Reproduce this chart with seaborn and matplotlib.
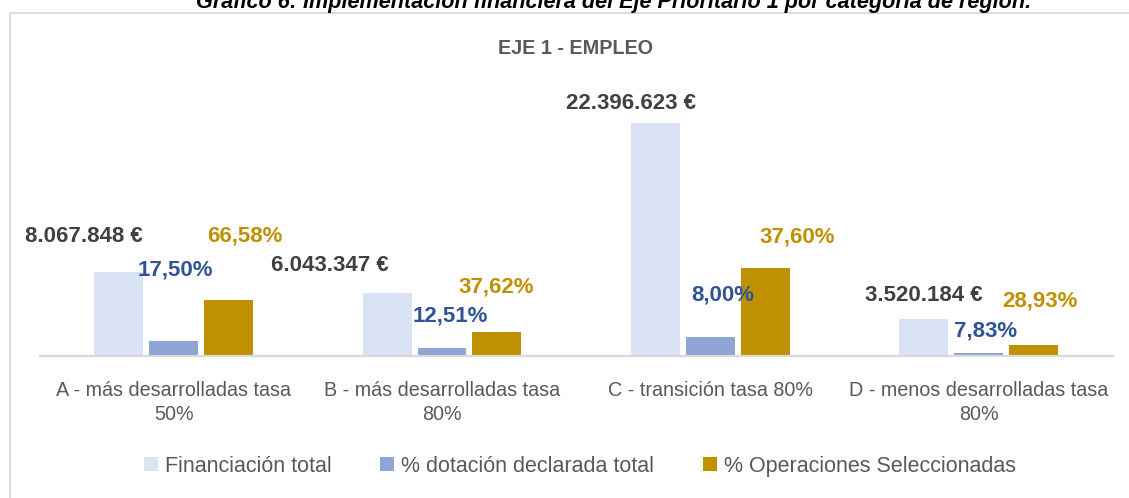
import matplotlib
matplotlib.use("Agg")
import matplotlib.pyplot as plt
from matplotlib.patches import Rectangle, Patch
import seaborn as sns
import pandas as pd

# ---------------- data ----------------
categories = ["A - más desarrolladas tasa\n50%",
              "B - más desarrolladas tasa\n80%",
              "C - transición tasa 80%",
              "D - menos desarrolladas tasa\n80%"]
series = ["Financiación total", "% dotación declarada total", "% Operaciones Seleccionadas"]
financiacion_total = [8067848, 6043347, 22396623, 3520184]
pct_dotacion = [17.50, 12.51, 8.00, 7.83]
pct_operaciones = [66.58, 37.62, 37.60, 28.93]

lbl_fin = ["8.067.848 €", "6.043.347 €", "22.396.623 €", "3.520.184 €"]
lbl_dot = ["17,50%", "12,51%", "8,00%", "7,83%"]
lbl_ope = ["66,58%", "37,62%", "37,60%", "28,93%"]

# bar heights for % series are drawn as the corresponding amount of the total
h_dot = [t * p / 100 for t, p in zip(financiacion_total, pct_dotacion)]
h_ope = [t * p / 100 for t, p in zip(financiacion_total, pct_operaciones)]

rows = []
for i, c in enumerate(categories):
    rows.append((c, series[0], financiacion_total[i]))
    rows.append((c, series[1], h_dot[i]))
    rows.append((c, series[2], h_ope[i]))
df = pd.DataFrame(rows, columns=["cat", "serie", "valor"])

colors = ["#DAE3F3", "#8FA5D4", "#BF9000"]
label_colors = ["#404040", "#2F5597", "#BF9000"]

# label offsets (pixels) relative to bar top-centre: (dx, dy)
offsets = [
    [(-35, 36), (-57, 28), (-24, 20), (0, 24)],
    [(2, 71), (8, 32), (13, 42), (7, 22)],
    [(16, 64), (-1, 45), (32, 31), (7, 44)],
]

# ---------------- figure ----------------
sns.set_theme(style="white")
plt.rcParams["font.family"] = ["Liberation Sans", "DejaVu Sans"]

W, H = 1129, 498
fig = plt.figure(figsize=(W / 100, H / 100), dpi=100)
ax = fig.add_axes([39.6 / W, (H - 356) / H, 1073 / W, 260 / H])

sns.barplot(data=df, x="cat", y="valor", hue="serie", hue_order=series,
            order=categories, palette=colors, width=0.614, gap=0.11,
            saturation=1, edgecolor="none", linewidth=0, ax=ax, legend=False)

ax.set_xlim(-0.5, 3.5)
ax.set_ylim(0, 25e6)
ax.set_xlabel("")
ax.set_ylabel("")
ax.set_yticks([])
for s in ["top", "right", "left"]:
    ax.spines[s].set_visible(False)
ax.spines["bottom"].set_color("#D9D9D9")
ax.spines["bottom"].set_linewidth(1.6)
ax.tick_params(axis="x", length=0, pad=18, labelsize=14.2, labelcolor="#595959")
for t in ax.get_xticklabels():
    t.set_linespacing(1.3)

all_labels = [lbl_fin, lbl_dot, lbl_ope]
for si, cont in enumerate(ax.containers):
    for ci, bar in enumerate(cont.patches):
        xc = bar.get_x() + bar.get_width() / 2
        yt = bar.get_height()
        dx, dy = offsets[si][ci]
        ax.annotate(all_labels[si][ci], xy=(xc, yt), xytext=(dx, dy),
                    textcoords="offset pixels", ha="center", va="center",
                    fontsize=16, fontweight="bold", color=label_colors[si],
                    annotation_clip=False)

# chart border
fig.patches.append(Rectangle((10 / W, -0.05), 1.2, 1 - 13 / H + 0.05,
                             transform=fig.transFigure, fill=False,
                             edgecolor="#D9D9D9", linewidth=1.3))

# titles
fig.text(614 / W, 1 - 8 / H,
         "Gráfico 6: Implementación financiera del Eje Prioritario 1 por categoría de región.",
         ha="center", va="baseline", fontsize=15.6, fontweight="bold",
         fontstyle="italic", color="#000000")
fig.text(575 / W, 1 - 49 / H, "EJE 1 - EMPLEO", ha="center", va="center",
         fontsize=14.2, fontweight="bold", color="#595959")

# legend
handles = [Patch(facecolor=c, edgecolor="none") for c in colors]
fig.legend(handles, series, loc="center", bbox_to_anchor=(580 / W, 1 - 466 / H),
           ncol=3, frameon=False, fontsize=15.5, handlelength=0.65,
           handleheight=0.65, handletextpad=0.32, columnspacing=2.27,
           labelcolor="#595959")

fig.savefig("out.png", dpi=100)
